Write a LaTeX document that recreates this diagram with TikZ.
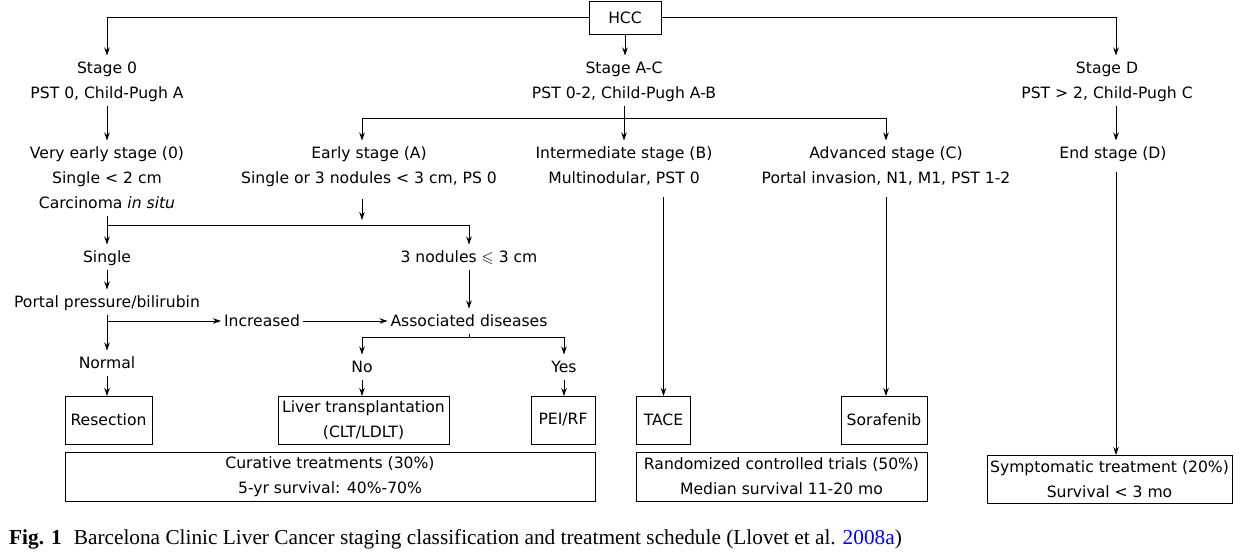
\documentclass[tikz,border=0pt]{standalone}
\usepackage{fontspec}
\usepackage{amssymb}
\usetikzlibrary{arrows.meta,calc}
\newfontfamily\dvfont{DejaVu Sans}
\newfontfamily\capfont{Liberation Serif}
\tikzset{
  tx/.style={align=center, font=\dvfont\fontsize{15.6}{25}\selectfont, inner xsep=3pt, inner ysep=0pt, outer sep=0pt},
  bx/.style={draw, line width=0.9pt, align=center, font=\dvfont\fontsize{15.6}{25}\selectfont, inner sep=2pt, outer sep=0pt},
  arr/.style={-{Stealth[length=8pt,width=5.5pt]}, line width=0.9pt},
  ln/.style={line width=0.9pt}
}
\begin{document}
\begin{tikzpicture}[x=1pt,y=-1pt]
\useasboundingbox (0,0) rectangle (1258,552);
% boxes
\node[bx, minimum width=72pt, minimum height=33pt] (hcc) at (625,17.5) {HCC};
% text nodes
\node[tx] (stage0) at (107,80.5) {\strut Stage 0\\\strut PST 0, Child-Pugh A};
\node[tx] (stageAC) at (624,80.5) {\strut Stage A-C\\\strut PST 0-2, Child-Pugh A-B};
\node[tx] (stageD) at (1107,80.5) {\strut Stage D\\\strut PST > 2, Child-Pugh C};
\node[tx] (veryearly) at (107,178) {\strut Very early stage (0)\\Single < 2 cm\\\strut Carcinoma \textit{in situ}};
\node[tx] (early) at (369,165.5) {\strut Early stage (A)\\\strut Single or 3 nodules < 3 cm, PS 0};
\node[tx] (inter) at (624,165.5) {\strut Intermediate stage (B)\\\strut Multinodular, PST 0};
\node[tx] (adv) at (886,165.5) {\strut Advanced stage (C)\\\strut Portal invasion, N1, M1, PST 1-2};
\node[tx] (endD) at (1113,153) {\strut End stage (D)};
\node[tx] (single) at (107,257) {\strut Single};
\node[tx] (three) at (469,257) {\strut 3 nodules $\leqslant$ 3 cm};
\node[tx] (portal) at (107,302) {\strut Portal pressure/bilirubin};
\node[tx] (increased) at (262,321) {\strut Increased};
\node[tx] (assoc) at (469,321) {\strut Associated diseases};
\node[tx] (normal) at (107,363) {\strut Normal};
\node[tx] (no) at (362,367) {\strut No};
\node[tx] (yes) at (564,367) {\strut Yes};
% treatment boxes
\node[bx, minimum width=87pt, minimum height=48pt] (resection) at (108.5,420) {Resection};
\node[bx, minimum width=171pt, minimum height=48pt] (liver) at (363.5,420) {Liver transplantation\\(CLT/LDLT)};
\node[bx, minimum width=64pt, minimum height=48pt] (pei) at (563,420) {PEI/RF};
\node[bx, minimum width=54pt, minimum height=48pt] (tace) at (663.5,420) {TACE};
\node[bx, minimum width=86pt, minimum height=48pt] (sora) at (884,420) {Sorafenib};
\node[bx, minimum width=530pt, minimum height=49pt] (curative) at (330,476.5) {Curative treatments (30\%)\\5-yr survival: 40\%-70\%};
\node[bx, minimum width=291pt, minimum height=49pt] (rct) at (781.5,476.5) {Randomized controlled trials (50\%)\\Median survival 11-20 mo};
\node[bx, minimum width=245pt, minimum height=48pt] (sympt) at (1109.5,479) {Symptomatic treatment (20\%)\\Survival < 3 mo};
% caption
\node[anchor=west, inner sep=0pt, font=\capfont\fontsize{21.3}{25}\selectfont] (cap) at (9,539) {\textbf{Fig. 1}\hspace{12pt}Barcelona Clinic Liver Cancer staging classification and treatment schedule (Llovet et al. \textcolor{blue}{2008a})};
% helper coordinates
\coordinate (dx) at (1116,0);
\coordinate (acj) at (624,118);
\coordinate (ej) at (362,225);
% connectors
\draw[arr] (hcc.west) -| (stage0.north);
\draw[arr] (hcc.east) -| (stageD.north -| dx);
\draw[arr] (hcc.south) -- (hcc.south |- stageAC.north);
\draw[arr] (stage0.south) -- (veryearly.north);
\draw[arr] (stageAC.south) -- (inter.north);
\draw[arr] (acj) -| ([xshift=-7pt]early.north);
\draw[arr] (acj) -| (adv.north);
\draw[arr] (stageD.south -| dx) -- (endD.north -| dx);
\draw[arr, shorten <=8pt] ([xshift=-7pt]early.south) -- ([yshift=5pt]ej);
\draw[arr] (veryearly.south) -- (single.north);
\draw[arr] (veryearly.south |- ej) -- (three.north |- ej) -- (three.north);
\draw[arr] (single.south) -- (portal.north);
\draw[arr] (portal.south) -- (normal.north);
\draw[arr] (portal.south |- increased.west) -- (increased.west);
\draw[arr] (increased.east) -- (assoc.west);
\draw[arr] (three.south) -- (assoc.north);
\draw[arr] (assoc.south) -- ++(0,4) -| (no.north);
\draw[arr] (assoc.south) -- ++(0,4) -| (yes.north);
\draw[arr] (normal.south) -- (normal.south |- resection.north);
\draw[arr] (no.south) -- (no.south |- liver.north);
\draw[arr] (yes.south) -- (yes.south |- pei.north);
\draw[arr, shorten <=6pt] (inter.south -| tace.north) -- (tace.north);
\draw[arr, shorten <=6pt] (adv.south) -- (adv.south |- sora.north);
\draw[arr, shorten <=6pt] (endD.south -| dx) -- (sympt.north -| dx);
\end{tikzpicture}
\end{document}
